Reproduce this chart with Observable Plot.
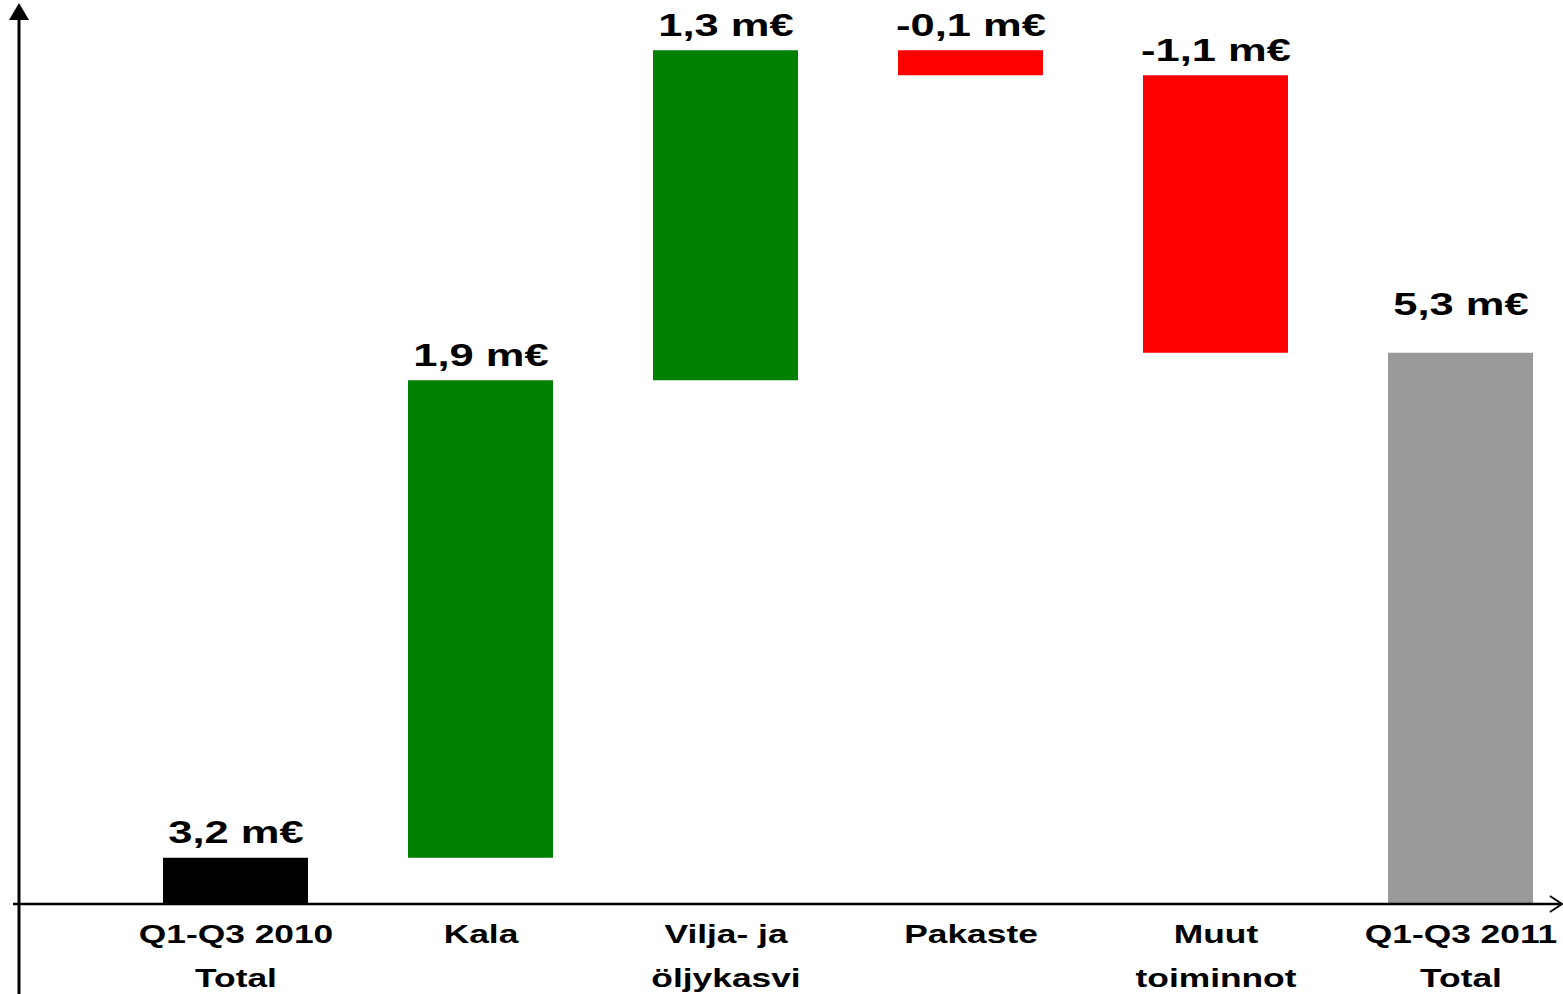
<!DOCTYPE html>
<html>
<head>
<meta charset="utf-8">
<script src="https://cdn.jsdelivr.net/npm/d3@7"></script>
<script src="https://cdn.jsdelivr.net/npm/@observablehq/plot@0.6"></script>
<style>
  html, body { margin: 0; padding: 0; background: #fff; }
  #chart svg { display: block; }
</style>
</head>
<body>
<div id="chart"></div>
<script>
// Data
const categories = ["Q1-Q3 2010\nTotal", "Kala", "Vilja- ja\nöljykasvi", "Pakaste", "Muut\ntoiminnot", "Q1-Q3 2011\nTotal"];
const values = [3.24, 1.91, 1.32, -0.10, -1.11, 5.26];
const kinds = ["total", "delta", "delta", "delta", "delta", "total"];
const colors = ["#000000", "#008000", "#008000", "#ff0000", "#ff0000", "#999999"];
const axisBase = 3.055;

// Build waterfall rows
let running = 0;
const rows = categories.map((cat, i) => {
  let y1, y2;
  if (kinds[i] === "total") { y1 = axisBase; y2 = values[i]; running = values[i]; }
  else { y1 = running; y2 = running + values[i]; running = y2; }
  return {
    cat, y1, y2, hi: Math.max(y1, y2), color: colors[i],
    label: values[i].toFixed(1).replace(".", ",") + " m€"
  };
});
const firstRows = rows.slice(0, rows.length - 1);
const finalRow = rows.slice(rows.length - 1);

const W = 1563, H = 994;
const font = "'Liberation Sans', Arial, sans-serif";
const stretch = 1.36;

const plot = Plot.plot({
  width: W, height: H,
  marginLeft: 19, marginRight: 0, marginTop: 0, marginBottom: 0,
  style: { fontFamily: font, background: "#fff", overflow: "visible" },
  x: { type: "band", domain: categories, range: [113.5, 1583.5], paddingInner: 0.408, paddingOuter: 0.204, axis: null },
  y: { domain: [axisBase, axisBase + 3.6], range: [904, 4], axis: null },
  marks: [
    Plot.barY(rows, { x: "cat", y1: "y1", y2: "y2", fill: "color" }),
    Plot.text(firstRows, { x: "cat", y: "hi", text: "label", dy: -15, lineAnchor: "bottom",
      fontSize: 32, fontWeight: "bold", fill: "#000" }),
    Plot.text(finalRow, { x: "cat", y: "hi", text: "label", dy: -38, lineAnchor: "bottom",
      fontSize: 32, fontWeight: "bold", fill: "#000" }),
    Plot.text(rows, { x: "cat", y: () => axisBase, text: "cat", lineAnchor: "top",
      lineHeight: 44 / 26, dy: 943 - 904 - 0.71 * 44, fontSize: 26, fontWeight: "bold", fill: "#000" })
  ]
});

document.getElementById("chart").appendChild(plot);

// Stretch text horizontally to match the wide lettering
d3.select(plot).selectAll("text").each(function () {
  const t = this.getAttribute("transform");
  if (t && /translate/.test(t)) {
    this.setAttribute("transform", t + ` scale(${stretch},1)`);
  } else {
    const x = +(this.getAttribute("x") || 0);
    this.setAttribute("transform", `translate(${x},0) scale(${stretch},1) translate(${-x},0)` + (t ? " " + t : ""));
  }
});

// Axes with arrows
const yScale = plot.scale("y");
const y0 = yScale.apply(axisBase);
const svg = d3.select(plot);
const g = svg.append("g").attr("stroke", "#000").attr("fill", "none");
g.append("line").attr("x1", 13).attr("x2", 1560).attr("y1", y0).attr("y2", y0).attr("stroke-width", 2.5);
g.append("line").attr("x1", 19).attr("x2", 19).attr("y1", 16).attr("y2", H).attr("stroke-width", 3);
svg.append("path").attr("d", "M19,3 L29,20 L9,20 Z").attr("fill", "#000");
g.append("path").attr("d", `M1550,${y0 - 8} L1562,${y0} L1550,${y0 + 8}`).attr("stroke-width", 2);
</script>
</body>
</html>
